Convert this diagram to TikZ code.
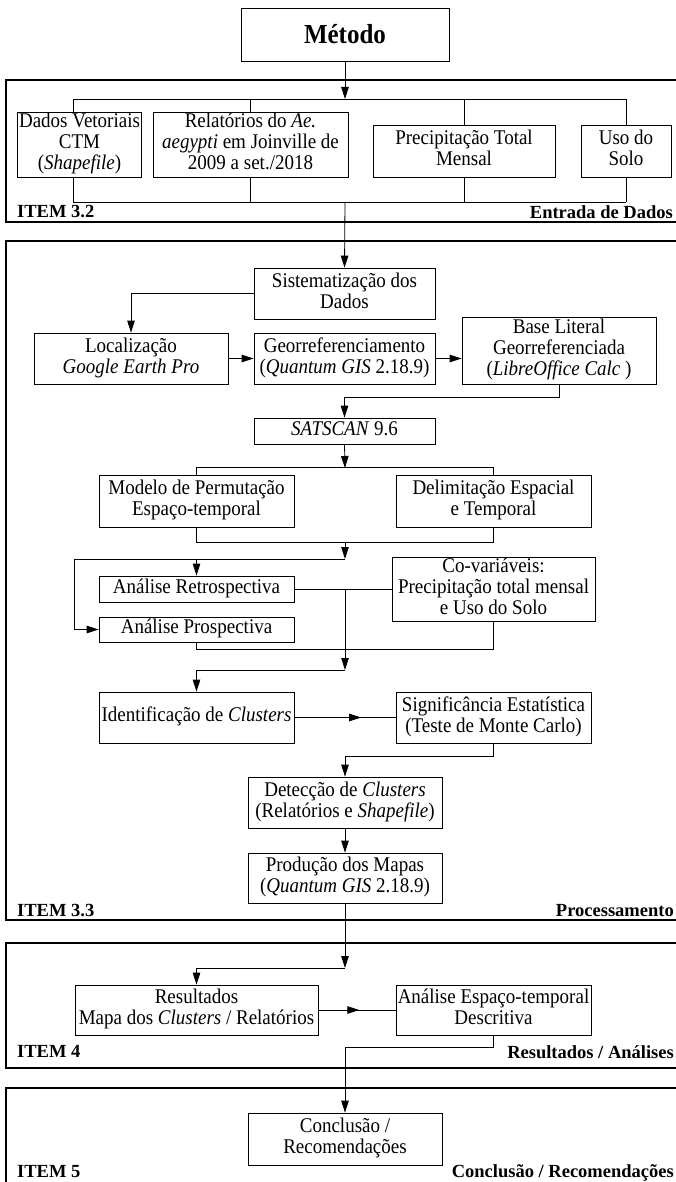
\documentclass[tikz,border=0pt]{standalone}
\usepackage{fontspec}
\usepackage{graphicx}
\setmainfont{Liberation Serif}
\usetikzlibrary{arrows.meta,decorations.markings}
\newcommand\tx[1]{\scalebox{1}[1.1]{\begin{tabular}{@{}c@{}}#1\end{tabular}}}
\begin{document}
\begin{tikzpicture}[x=1pt,y=-1pt,
  box/.style={draw,line width=0.8pt,rectangle,inner sep=0pt,align=center,font=\fontsize{19}{19.2}\selectfont},
  ln/.style={line width=0.8pt},
  arr/.style={line width=0.8pt,-{Triangle[length=12pt,width=7.5pt]}},
  frm/.style={line width=2.6pt},
  lab/.style={font=\bfseries\fontsize{18.5}{20}\selectfont,inner sep=0pt},
  midarr/.style={line width=0.8pt,postaction=decorate,decoration={markings,mark=at position #1 with {\arrow{Triangle[length=12pt,width=7.5pt]}}}},
]
\useasboundingbox (0,0) rectangle (675,1182);
% frames
\draw[frm] (6,80) rectangle (680,222);
\draw[frm] (6,241) rectangle (680,920);
\draw[frm] (6,943) rectangle (680,1068);
\draw[frm] (6,1088) rectangle (680,1195);
% frame labels
\node[lab,anchor=base west] (i32) at (17,218) {ITEM 3.2};
\node[lab,anchor=base east] (t32) at (673,219) {Entrada de Dados};
\node[lab,anchor=base west] (i33) at (17,916) {ITEM 3.3};
\node[lab,anchor=base east] (t33) at (674,916) {Processamento};
\node[lab,anchor=base west] (i4) at (17,1057) {ITEM 4};
\node[lab,anchor=base east] (t4) at (674,1058) {Resultados / Análises};
\node[lab,anchor=base west] (i5) at (17,1177) {ITEM 5};
\node[lab,anchor=base east] (t5) at (674,1177) {Conclusão / Recomendações};
% boxes
\node[box,font=\bfseries\fontsize{25}{28}\selectfont,minimum width=208pt,minimum height=53pt] (metodo) at (345,34.5) {\scalebox{1}[1.1]{Método}};
\node[box,minimum width=124pt,minimum height=65pt] (dv) at (79.5,144.5) {\tx{Dados Vetoriais\\CTM\\(\textit{Shapefile})}};
\node[box,minimum width=195pt,minimum height=65pt] (rel) at (250.5,144.5) {\tx{Relatórios do \textit{Ae.}\\\textit{aegypti} em Joinville de\\2009 a set./2018}};
\node[box,minimum width=182pt,minimum height=52pt] (prec) at (464,151) {\tx{Precipitação Total\\Mensal}};
\node[box,minimum width=90pt,minimum height=52pt] (uso) at (626,151) {\tx{Uso do\\Solo}};
\node[box,minimum width=181pt,minimum height=51pt] (sist) at (344.5,293.5) {\tx{Sistematização dos\\Dados}};
\node[box,minimum width=194pt,minimum height=51pt] (loc) at (131,358.5) {\tx{Localização\\\textit{Google Earth Pro}}};
\node[box,minimum width=181pt,minimum height=51pt] (geo) at (344.5,358.5) {\tx{Georreferenciamento\\(\textit{Quantum GIS} 2.18.9)}};
\node[box,minimum width=194pt,minimum height=67pt] (base) at (559,350.5) {\tx{Base Literal\\Georreferenciada\\(\textit{LibreOffice Calc} )}};
\node[box,minimum width=181pt,minimum height=26pt] (sat) at (344.5,431) {\tx{\textit{SATSCAN} 9.6}};
\node[box,minimum width=195pt,minimum height=52pt] (mod) at (196.5,501) {\tx{Modelo de Permutação\\Espaço-temporal}};
\node[box,minimum width=195pt,minimum height=52pt] (del) at (493.5,501) {\tx{Delimitação Espacial\\e Temporal}};
\node[box,minimum width=195pt,minimum height=26pt] (retro) at (196.5,589) {\tx{Análise Retrospectiva}};
\node[box,minimum width=195pt,minimum height=25pt] (prosp) at (196.5,629.5) {\tx{Análise Prospectiva}};
\node[box,minimum width=203pt,minimum height=64pt] (cov) at (493.5,589) {\tx{Co-variáveis:\\Precipitação total mensal\\e Uso do Solo}};
\node[box,minimum width=195pt,minimum height=51pt] (ident) at (196.5,717.5) {\tx{Identificação de \textit{Clusters}}};
\node[box,minimum width=195pt,minimum height=51pt] (sig) at (493.5,717.5) {\tx{Significância Estatística\\(Teste de Monte Carlo)}};
\node[box,minimum width=194pt,minimum height=51pt] (det) at (345,802.5) {\tx{Detecção de \textit{Clusters}\\(Relatórios e \textit{Shapefile})}};
\node[box,minimum width=194pt,minimum height=50pt] (prod) at (345,878) {\tx{Produção dos Mapas\\(\textit{Quantum GIS} 2.18.9)}};
\node[box,minimum width=243pt,minimum height=50pt] (res) at (196.5,1010) {\tx{Resultados\\Mapa dos \textit{Clusters} / Relatórios}};
\node[box,minimum width=195pt,minimum height=50pt] (ae) at (493.5,1010) {\tx{Análise Espaço-temporal\\Descritiva}};
\node[box,minimum width=194pt,minimum height=52pt] (conc) at (345,1139) {\tx{Conclusão /\\Recomendações}};
% coordinates
\coordinate (b0) at (345,99);
\coordinate (t1) at (73,99);
\coordinate (t4) at (626,99);
\coordinate (u0) at (345,202);
\coordinate (u1) at (73,202);
\coordinate (u4) at (626,202);
\coordinate (m0) at (345,468);
\coordinate (m1) at (345,542);
\coordinate (m2) at (345,559);
\coordinate (c1) at (345,589);
\coordinate (c2) at (345,670);
\coordinate (r0) at (345,968);
% connectors: entrada
\draw[arr] (metodo.south) -- (b0);
\draw[ln] (t1) -- (t4);
\draw[ln] (t1) -- (t1 |- dv.north);
\draw[ln] (rel.north |- t1) -- (rel.north);
\draw[ln] (prec.north |- t1) -- (prec.north);
\draw[ln] (t4) -- (uso.north);
\draw[ln] (u1) -- (u4);
\draw[ln] (u1 |- dv.south) -- (u1);
\draw[ln] (rel.south) -- (rel.south |- u1);
\draw[ln] (prec.south) -- (prec.south |- u1);
\draw[ln] (uso.south) -- (u4);
% processamento
\draw[arr] (u0) -- (sist.north);
\draw[arr] (sist.west) -| (loc.north);
\draw[arr] (loc.east) -- (geo.west);
\draw[arr] (geo.east) -- (geo.east -| base.west);
\draw[arr] (base.south) -- ++(0,13) -| (sat.north);
\draw[arr] (sat.south) -- (m0);
\draw[ln] (mod.north) -- ++(0,-7) -| (del.north);
\draw[ln] (mod.south) -- ++(0,15) -| (del.south);
\draw[arr] (m1) -- (m2);
\draw[arr] (m2) -- ++(-271,0) |- (prosp.west);
\draw[arr] (retro.north |- m2) -- (retro.north);
\draw[ln] (retro.east) -- (cov.west);
\draw[arr] (c1) -- (c2);
\draw[ln] (prosp.south) -- ++(0,7) -| (cov.south);
\draw[arr] (c2) -| (ident.north);
\draw[midarr=0.66] (ident.east) -- (sig.west);
\draw[arr] (sig.south) -- ++(0,13) -| (det.north);
\draw[arr] (det.south) -- (prod.north);
\draw[arr] (prod.south) -- (r0);
% resultados
\draw[arr] (r0) -| (res.north);
\draw[midarr=0.53] (res.east) -- (ae.west);
\draw[arr] (ae.south) -- ++(0,12) -| (conc.north);
\end{tikzpicture}
\end{document}
